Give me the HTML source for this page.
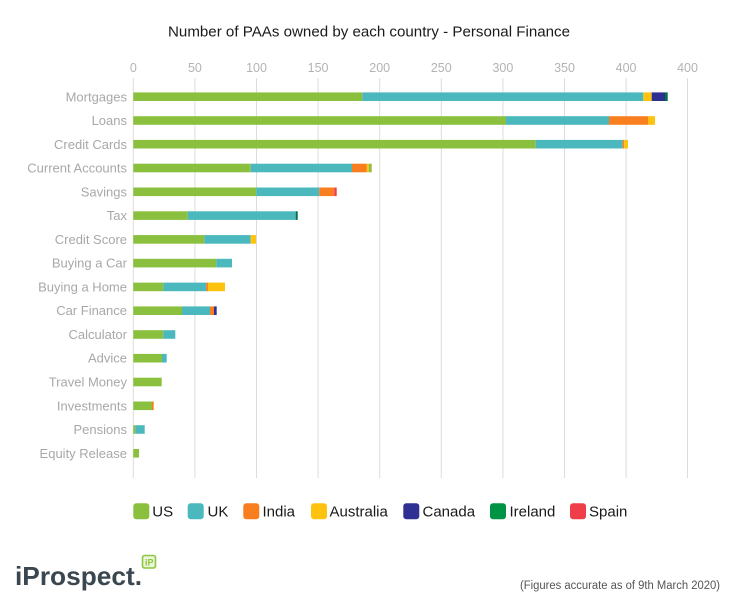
<!DOCTYPE html>
<html>
<head>
<meta charset="utf-8">
<style>
  html,body{margin:0;padding:0;background:#fff;}
  svg{display:block;}
  text{font-family:"Liberation Sans", Arial, sans-serif;}
</style>
</head>
<body>
<svg width="738" height="613" viewBox="0 0 738 613" xmlns="http://www.w3.org/2000/svg">
  <rect width="738" height="613" fill="#ffffff"/>
  <!-- Title -->
  <text x="369" y="36.5" font-size="15" fill="#1a1a1a" text-anchor="middle" textLength="402" lengthAdjust="spacingAndGlyphs">Number of PAAs owned by each country - Personal Finance</text>

  <!-- Gridlines -->
  <g stroke="#dcdcdc" stroke-width="1">
    <line x1="133.3" y1="78" x2="133.3" y2="478"/>
    <line x1="194.9" y1="78" x2="194.9" y2="478"/>
    <line x1="256.5" y1="78" x2="256.5" y2="478"/>
    <line x1="318.1" y1="78" x2="318.1" y2="478"/>
    <line x1="379.7" y1="78" x2="379.7" y2="478"/>
    <line x1="441.3" y1="78" x2="441.3" y2="478"/>
    <line x1="502.9" y1="78" x2="502.9" y2="478"/>
    <line x1="564.5" y1="78" x2="564.5" y2="478"/>
    <line x1="626.1" y1="78" x2="626.1" y2="478"/>
    <line x1="687.5" y1="78" x2="687.5" y2="478"/>
  </g>

  <!-- Tick labels -->
  <g font-size="12.5" fill="#b3b3b3" text-anchor="middle">
    <text x="133.3" y="71.8">0</text>
    <text x="194.9" y="71.8">50</text>
    <text x="256.5" y="71.8">100</text>
    <text x="318.1" y="71.8">150</text>
    <text x="379.7" y="71.8">200</text>
    <text x="441.3" y="71.8">250</text>
    <text x="502.9" y="71.8">300</text>
    <text x="564.5" y="71.8">350</text>
    <text x="626.1" y="71.8">400</text>
    <text x="687.5" y="71.8">400</text>
  </g>

  <!-- Category labels -->
  <g font-size="13" fill="#a8a8a8" text-anchor="end">
    <text x="127" y="101.3">Mortgages</text>
    <text x="127" y="125">Loans</text>
    <text x="127" y="148.8">Credit Cards</text>
    <text x="127" y="172.6">Current Accounts</text>
    <text x="127" y="196.4">Savings</text>
    <text x="127" y="220.1">Tax</text>
    <text x="127" y="243.9">Credit Score</text>
    <text x="127" y="267.7">Buying a Car</text>
    <text x="127" y="291.4">Buying a Home</text>
    <text x="127" y="315.2">Car Finance</text>
    <text x="127" y="339">Calculator</text>
    <text x="127" y="362.7">Advice</text>
    <text x="127" y="386.5">Travel Money</text>
    <text x="127" y="410.3">Investments</text>
    <text x="127" y="434">Pensions</text>
    <text x="127" y="457.8">Equity Release</text>
  </g>

  <!-- Bars -->
  <g>
    <!-- Mortgages y center 96.7 -->
    <rect x="133.3" y="92.4" width="229" height="8.6" fill="#8bc03f"/>
    <rect x="362.3" y="92.4" width="281" height="8.6" fill="#4bb8be"/>
    <rect x="643.3" y="92.4" width="8.4" height="8.6" fill="#ffc20e"/>
    <rect x="651.7" y="92.4" width="13.3" height="8.6" fill="#2e3192"/>
    <rect x="665" y="92.4" width="2.7" height="8.6" fill="#00704a"/>
    <!-- Loans 120.5 -->
    <rect x="133.3" y="116.2" width="372.7" height="8.6" fill="#8bc03f"/>
    <rect x="506" y="116.2" width="103" height="8.6" fill="#4bb8be"/>
    <rect x="609" y="116.2" width="39" height="8.6" fill="#f97e20"/>
    <rect x="648" y="116.2" width="7" height="8.6" fill="#ffc20e"/>
    <!-- Credit Cards 144.2 -->
    <rect x="133.3" y="139.9" width="402.4" height="8.6" fill="#8bc03f"/>
    <rect x="535.7" y="139.9" width="87" height="8.6" fill="#4bb8be"/>
    <rect x="622.7" y="139.9" width="1.5" height="8.6" fill="#f97e20"/>
    <rect x="624.2" y="139.9" width="3.8" height="8.6" fill="#ffc20e"/>
    <!-- Current Accounts 168 -->
    <rect x="133.3" y="163.7" width="117.4" height="8.6" fill="#8bc03f"/>
    <rect x="250.7" y="163.7" width="101.3" height="8.6" fill="#4bb8be"/>
    <rect x="352" y="163.7" width="14.8" height="8.6" fill="#f97e20"/>
    <rect x="366.8" y="163.7" width="2" height="8.6" fill="#ffc20e"/>
    <rect x="368.8" y="163.7" width="2.9" height="8.6" fill="#8bc03f"/>
    <!-- Savings 191.8 -->
    <rect x="133.3" y="187.5" width="123" height="8.6" fill="#8bc03f"/>
    <rect x="256.3" y="187.5" width="63" height="8.6" fill="#4bb8be"/>
    <rect x="319.3" y="187.5" width="15" height="8.6" fill="#f97e20"/>
    <rect x="334.3" y="187.5" width="2.4" height="8.6" fill="#ef3e4a"/>
    <!-- Tax 215.6 -->
    <rect x="133.3" y="211.3" width="54.4" height="8.6" fill="#8bc03f"/>
    <rect x="187.7" y="211.3" width="108" height="8.6" fill="#4bb8be"/>
    <rect x="295.7" y="211.3" width="2" height="8.6" fill="#00704a"/>
    <!-- Credit Score 239.4 -->
    <rect x="133.3" y="235.1" width="71" height="8.6" fill="#8bc03f"/>
    <rect x="204.3" y="235.1" width="46.4" height="8.6" fill="#4bb8be"/>
    <rect x="250.7" y="235.1" width="5.3" height="8.6" fill="#ffc20e"/>
    <!-- Buying a Car 263.1 -->
    <rect x="133.3" y="258.8" width="83" height="8.6" fill="#8bc03f"/>
    <rect x="216.3" y="258.8" width="15.7" height="8.6" fill="#4bb8be"/>
    <!-- Buying a Home 286.9 -->
    <rect x="133.3" y="282.6" width="30" height="8.6" fill="#8bc03f"/>
    <rect x="163.3" y="282.6" width="43" height="8.6" fill="#4bb8be"/>
    <rect x="206.3" y="282.6" width="1.7" height="8.6" fill="#f97e20"/>
    <rect x="208" y="282.6" width="17" height="8.6" fill="#ffc20e"/>
    <!-- Car Finance 310.7 -->
    <rect x="133.3" y="306.4" width="48.7" height="8.6" fill="#8bc03f"/>
    <rect x="182" y="306.4" width="28" height="8.6" fill="#4bb8be"/>
    <rect x="210" y="306.4" width="4" height="8.6" fill="#f97e20"/>
    <rect x="214" y="306.4" width="2.7" height="8.6" fill="#2e3192"/>
    <!-- Calculator 334.5 -->
    <rect x="133.3" y="330.2" width="30" height="8.6" fill="#8bc03f"/>
    <rect x="163.3" y="330.2" width="12" height="8.6" fill="#4bb8be"/>
    <!-- Advice 358.2 -->
    <rect x="133.3" y="353.9" width="28.7" height="8.6" fill="#8bc03f"/>
    <rect x="162" y="353.9" width="4.7" height="8.6" fill="#4bb8be"/>
    <!-- Travel Money 382 -->
    <rect x="133.3" y="377.7" width="28.4" height="8.6" fill="#8bc03f"/>
    <!-- Investments 405.8 -->
    <rect x="133.3" y="401.5" width="18.7" height="8.6" fill="#8bc03f"/>
    <rect x="152" y="401.5" width="1.7" height="8.6" fill="#f97e20"/>
    <!-- Pensions 429.5 -->
    <rect x="133.3" y="425.2" width="2" height="8.6" fill="#8bc03f"/>
    <rect x="135.3" y="425.2" width="9.4" height="8.6" fill="#4bb8be"/>
    <!-- Equity Release 453.3 -->
    <rect x="133.3" y="449" width="5.7" height="8.6" fill="#8bc03f"/>
  </g>

  <!-- Legend -->
  <g font-size="15" fill="#1a1a1a">
    <rect x="133.3" y="503.3" width="16" height="16" rx="3" fill="#8bc03f"/>
    <text x="152.3" y="516.6">US</text>
    <rect x="187.7" y="503.3" width="16" height="16" rx="3" fill="#4bb8be"/>
    <text x="207.5" y="516.6">UK</text>
    <rect x="243.3" y="503.3" width="16" height="16" rx="3" fill="#f97e20"/>
    <text x="262.5" y="516.6">India</text>
    <rect x="311" y="503.3" width="16" height="16" rx="3" fill="#ffc20e"/>
    <text x="329.5" y="516.6">Australia</text>
    <rect x="403.3" y="503.3" width="16" height="16" rx="3" fill="#2e3192"/>
    <text x="422.5" y="516.6">Canada</text>
    <rect x="490" y="503.3" width="16" height="16" rx="3" fill="#009245"/>
    <text x="509.5" y="516.6">Ireland</text>
    <rect x="570" y="503.3" width="16" height="16" rx="3" fill="#ef3e4a"/>
    <text x="589" y="516.6">Spain</text>
  </g>

  <!-- Logo -->
  <text x="15" y="585" font-size="26" font-weight="bold" fill="#3b4750" textLength="127" lengthAdjust="spacingAndGlyphs">iProspect.</text>
  <rect x="142.5" y="555.5" width="13" height="12.5" rx="2" fill="#eaf5da" stroke="#8dc63f" stroke-width="1.6"/>
  <text x="145" y="565.5" font-size="9" font-weight="bold" fill="#8dc63f">iP</text>

  <!-- Footnote -->
  <text x="720" y="589" font-size="11.5" fill="#555555" text-anchor="end" textLength="200" lengthAdjust="spacingAndGlyphs">(Figures accurate as of 9th March 2020)</text>
</svg>
</body>
</html>
